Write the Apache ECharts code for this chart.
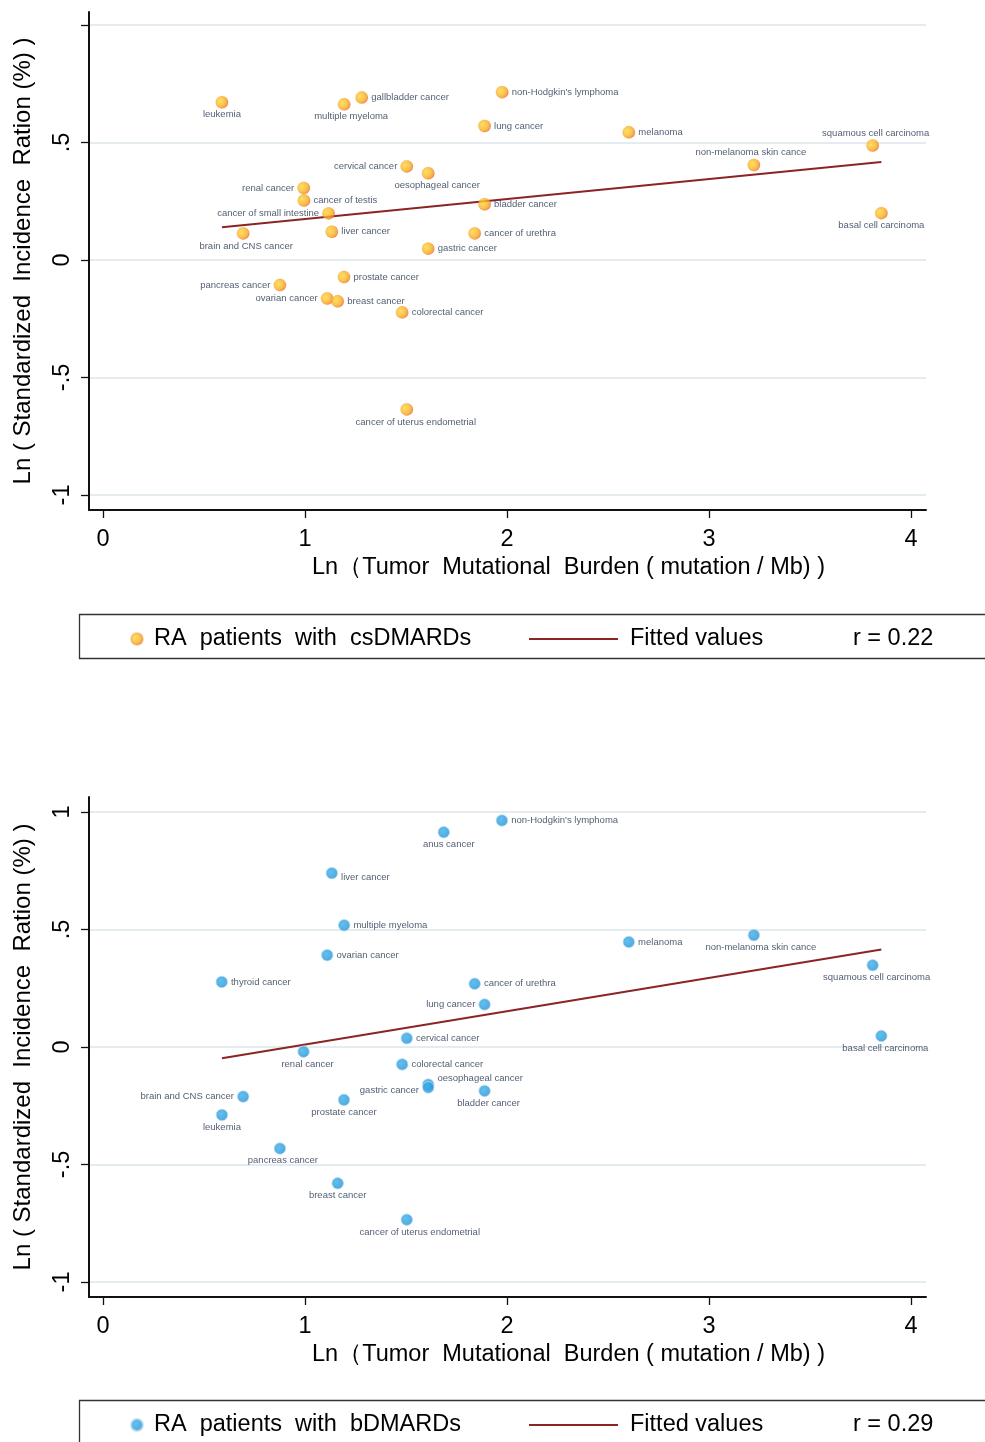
<!DOCTYPE html>
<html>
<head>
<meta charset="utf-8">
<script src="https://cdn.jsdelivr.net/npm/echarts@6/dist/echarts.min.js"></script>
<style>
html,body{margin:0;padding:0;background:#fff;}
#main{width:985px;height:1442px;}
</style>
</head>
<body>
<div id="main"></div>
<script>
// ---------- data ----------
const xTicks = [0, 1, 2, 3, 4];
const yTicks = [-1, -0.5, 0, 0.5, 1];
const yLabelsTop = [-1, -0.5, 0, 0.5];
const yLabelsBottom = [-1, -0.5, 0, 0.5, 1];

const csNames = ["leukemia","multiple myeloma","gallbladder cancer","non-Hodgkin's lymphoma","lung cancer","melanoma","squamous cell carcinoma","non-melanoma skin cance","cervical cancer","oesophageal cancer","renal cancer","cancer of testis","cancer of small intestine","bladder cancer","brain and CNS cancer","liver cancer","cancer of urethra","gastric cancer","basal cell carcinoma","prostate cancer","pancreas cancer","ovarian cancer","breast cancer","colorectal cancer","cancer of uterus endometrial"];
const csX = [0.589,1.194,1.281,1.976,1.889,2.603,3.810,3.222,1.504,1.610,0.994,0.995,1.117,1.889,0.694,1.133,1.840,1.610,3.853,1.193,0.876,1.110,1.162,1.481,1.504];
const csY = [0.671,0.662,0.691,0.714,0.570,0.543,0.487,0.404,0.398,0.369,0.306,0.253,0.198,0.237,0.113,0.120,0.113,0.048,0.199,-0.073,-0.107,-0.164,-0.176,-0.223,-0.636];

const bNames = ["non-Hodgkin's lymphoma","anus cancer","liver cancer","multiple myeloma","ovarian cancer","thyroid cancer","cancer of urethra","lung cancer","cervical cancer","renal cancer","colorectal cancer","oesophageal cancer","gastric cancer","bladder cancer","brain and CNS cancer","prostate cancer","leukemia","pancreas cancer","breast cancer","cancer of uterus endometrial","melanoma","non-melanoma skin cance","squamous cell carcinoma","basal cell carcinoma"];
const bX = [1.975,1.687,1.133,1.194,1.110,0.588,1.840,1.889,1.504,0.993,1.481,1.610,1.610,1.889,0.694,1.193,0.589,0.876,1.162,1.504,2.603,3.222,3.810,3.853];
const bY = [0.964,0.914,0.740,0.518,0.391,0.277,0.269,0.181,0.037,-0.020,-0.074,-0.160,-0.172,-0.187,-0.211,-0.225,-0.289,-0.432,-0.580,-0.735,0.447,0.476,0.348,0.047];

const fitTopX = [0.589, 3.853];
const fitTopY = [0.139, 0.417];
const fitBotX = [0.589, 3.853];
const fitBotY = [-0.048, 0.415];

const rTop = "r = 0.22";
const rBot = "r = 0.29";
const nameCs = "RA  patients  with  csDMARDs";
const nameB = "RA  patients  with  bDMARDs";
const nameFit = "Fitted values";
const xTitle = "Ln（Tumor  Mutational  Burden ( mutation / Mb) )";
const yTitle = "Ln ( Standardized  Incidence  Ration (%) )";

// ---------- label placement (style) ----------
const csPos = {
  "leukemia":"bottom","multiple myeloma":"bottom","squamous cell carcinoma":"top","non-melanoma skin cance":"top",
  "cervical cancer":"left","oesophageal cancer":"bottom","renal cancer":"left","cancer of small intestine":"left",
  "brain and CNS cancer":"bottom","basal cell carcinoma":"bottom","pancreas cancer":"left","ovarian cancer":"left",
  "cancer of uterus endometrial":"bottom"
};
const csOff = {"multiple myeloma":[7,0],"oesophageal cancer":[9,0],"cancer of uterus endometrial":[9,0],"non-melanoma skin cance":[-3,0],"squamous cell carcinoma":[3,0],"brain and CNS cancer":[3,0]};
const bPos = {
  "anus cancer":"bottom","lung cancer":"left","renal cancer":"bottom","gastric cancer":"left","bladder cancer":"bottom",
  "brain and CNS cancer":"left","prostate cancer":"bottom","leukemia":"bottom","pancreas cancer":"bottom",
  "breast cancer":"bottom","cancer of uterus endometrial":"bottom","non-melanoma skin cance":"bottom",
  "squamous cell carcinoma":"bottom","basal cell carcinoma":"bottom"
};
const bOff = {"anus cancer":[5,0],"renal cancer":[4,0],"bladder cancer":[4,0],"pancreas cancer":[3,0],"cancer of uterus endometrial":[13,0],"non-melanoma skin cance":[7,0],"squamous cell carcinoma":[4,0],"basal cell carcinoma":[4,0],"oesophageal cancer":[0,-6],"gastric cancer":[0,3],"liver cancer":[0,4]};

function pts(names, xs, ys, pos, off) {
  return names.map((n, i) => ({
    name: n, value: [xs[i], ys[i]],
    label: { position: pos[n] || 'right', offset: off[n] || [0, 0], distance: (pos[n] === 'bottom' || pos[n] === 'top') ? 1 : 3 }
  }));
}
function line(xs, ys) { return xs.map((x, i) => [x, ys[i]]); }

const FONT = "'Liberation Sans', Arial, Helvetica, sans-serif";
const orange = new echarts.graphic.RadialGradient(0.36, 0.4, 0.68, [
  {offset: 0, color: '#FFD63D'}, {offset: 0.55, color: '#F9B424'},
  {offset: 0.82, color: '#F28E1E'}, {offset: 1, color: '#E0502A'}]);
const blue = new echarts.graphic.RadialGradient(0.4, 0.4, 0.7, [
  {offset: 0, color: '#3BAFEA'}, {offset: 0.7, color: '#2797DA'}, {offset: 1, color: '#1D80C6'}]);
const FIT_COLOR = '#8B2525';

const yFmt = v => v === 0 ? '0' : (v < 0 ? '-' : '') + (Math.abs(v) === 1 ? '1' : '.5');

function xAxisCfg(gi) {
  return {
    gridIndex: gi, type: 'value', min: -0.069, max: 4.074,
    axisLine: {show: true, onZero: false, lineStyle: {color: '#111', width: 2}},
    axisTick: {show: true, length: 8, lineStyle: {color: '#111', width: 1.3}, customValues: xTicks},
    axisLabel: {customValues: xTicks, fontSize: 23.5, color: '#000', fontFamily: FONT, margin: 18},
    splitLine: {show: false},
    name: xTitle, nameLocation: 'middle', nameGap: 46,
    nameTextStyle: {fontSize: 23.5, color: '#000', fontFamily: FONT, padding: [0, 0, 0, 122]}
  };
}
function yAxisCfg(gi, labels, max) {
  return {
    gridIndex: gi, type: 'value', min: -1.064, max: max,
    axisLine: {show: true, onZero: false, lineStyle: {color: '#111', width: 2}},
    axisTick: {show: true, length: 8, lineStyle: {color: '#111', width: 1.3}, customValues: yTicks},
    axisLabel: {customValues: labels, rotate: 90, formatter: yFmt, fontSize: 23.5, color: '#000', fontFamily: FONT, margin: 14},
    splitLine: {show: false},
    name: yTitle, nameLocation: 'middle', nameGap: 54,
    nameTextStyle: {fontSize: 24, color: '#000', fontFamily: FONT}
  };
}
function gridSeries(gi, xs, ys) {
  return {
    type: 'line', xAxisIndex: gi, yAxisIndex: gi, data: line(xs, ys), silent: true,
    symbol: 'none', lineStyle: {opacity: 0}, z: 0,
    markLine: {
      silent: true, symbol: ['none', 'none'], z: 0, label: {show: false},
      lineStyle: {color: '#e4ecf0', width: 2, type: 'solid'},
      emphasis: {disabled: true},
      data: yTicks.map(v => ({yAxis: v}))
    }
  };
}
const labelStyle = {show: true, formatter: '{b}', fontSize: 9.5, color: '#26354f', fontFamily: FONT};

const legendText = {fontSize: 23.5, color: '#000', fontFamily: FONT};
const fitLegendItem = {name: nameFit, icon: 'rect', itemStyle: {color: FIT_COLOR}};

const option = {
  backgroundColor: '#fff',
  animation: false,
  grid: [
    {left: 89, right: 59, top: 12, bottom: 932, containLabel: false, outerBoundsMode: 'none'},
    {left: 89, right: 59, top: 797, bottom: 145, containLabel: false, outerBoundsMode: 'none'}
  ],
  xAxis: [xAxisCfg(0), xAxisCfg(1)],
  yAxis: [yAxisCfg(0, yLabelsTop, 1.055), yAxisCfg(1, yLabelsBottom, 1.064)],
  legend: [
    {data: [nameCs], left: 130, top: 627, padding: 0, itemWidth: 12, itemHeight: 12, selectedMode: false,
     textStyle: Object.assign({padding: [0, 0, 0, 6]}, legendText)},
    {data: [fitLegendItem], left: 529, top: 627, padding: 0, itemWidth: 89, itemHeight: 2, selectedMode: false,
     textStyle: Object.assign({padding: [0, 0, 0, 7]}, legendText)},
    {data: [nameB], left: 130, top: 1413, padding: 0, itemWidth: 12, itemHeight: 12, selectedMode: false,
     textStyle: Object.assign({padding: [0, 0, 0, 6]}, legendText)},
    {data: [fitLegendItem], left: 529, top: 1413, padding: 0, itemWidth: 89, itemHeight: 2, selectedMode: false,
     textStyle: Object.assign({padding: [0, 0, 0, 7]}, legendText)}
  ],
  graphic: [
    {type: 'rect', shape: {x: 79.5, y: 614.5, width: 930, height: 44}, style: {fill: 'none', stroke: '#333', lineWidth: 1.3}, silent: true},
    {type: 'rect', shape: {x: 79.5, y: 1400.5, width: 930, height: 60}, style: {fill: 'none', stroke: '#333', lineWidth: 1.3}, silent: true},
    {type: 'text', left: 853, top: 627, style: {text: rTop, fontSize: 23.5, fill: '#000', fontFamily: FONT}, silent: true},
    {type: 'text', left: 853, top: 1413, style: {text: rBot, fontSize: 23.5, fill: '#000', fontFamily: FONT}, silent: true}
  ],
  series: [
    gridSeries(0, fitTopX, fitTopY),
    {
      name: nameFit, type: 'line', xAxisIndex: 0, yAxisIndex: 0, data: line(fitTopX, fitTopY),
      symbol: 'none', itemStyle: {color: FIT_COLOR}, lineStyle: {color: FIT_COLOR, width: 2}, z: 2, silent: true
    },
    {
      name: nameCs, type: 'scatter', xAxisIndex: 0, yAxisIndex: 0,
      data: pts(csNames, csX, csY, csPos, csOff), symbol: 'circle', symbolSize: 12.5,
      itemStyle: {color: orange, borderColor: 'rgba(235,120,40,0.35)', borderWidth: 0.5},
      label: labelStyle, z: 3, silent: true
    },
    gridSeries(1, fitBotX, fitBotY),
    {
      name: nameFit, type: 'line', xAxisIndex: 1, yAxisIndex: 1, data: line(fitBotX, fitBotY),
      symbol: 'none', itemStyle: {color: FIT_COLOR}, lineStyle: {color: FIT_COLOR, width: 2}, z: 2, silent: true
    },
    {
      name: nameB, type: 'scatter', xAxisIndex: 1, yAxisIndex: 1,
      data: pts(bNames, bX, bY, bPos, bOff), symbol: 'circle', symbolSize: 11.5,
      itemStyle: {color: blue, borderColor: 'rgba(185,218,240,0.95)', borderWidth: 1},
      label: labelStyle, z: 3, silent: true
    }
  ]
};
const chart = echarts.init(document.getElementById('main'), null, {renderer: 'canvas'});
chart.setOption(option);
</script>
</body>
</html>
